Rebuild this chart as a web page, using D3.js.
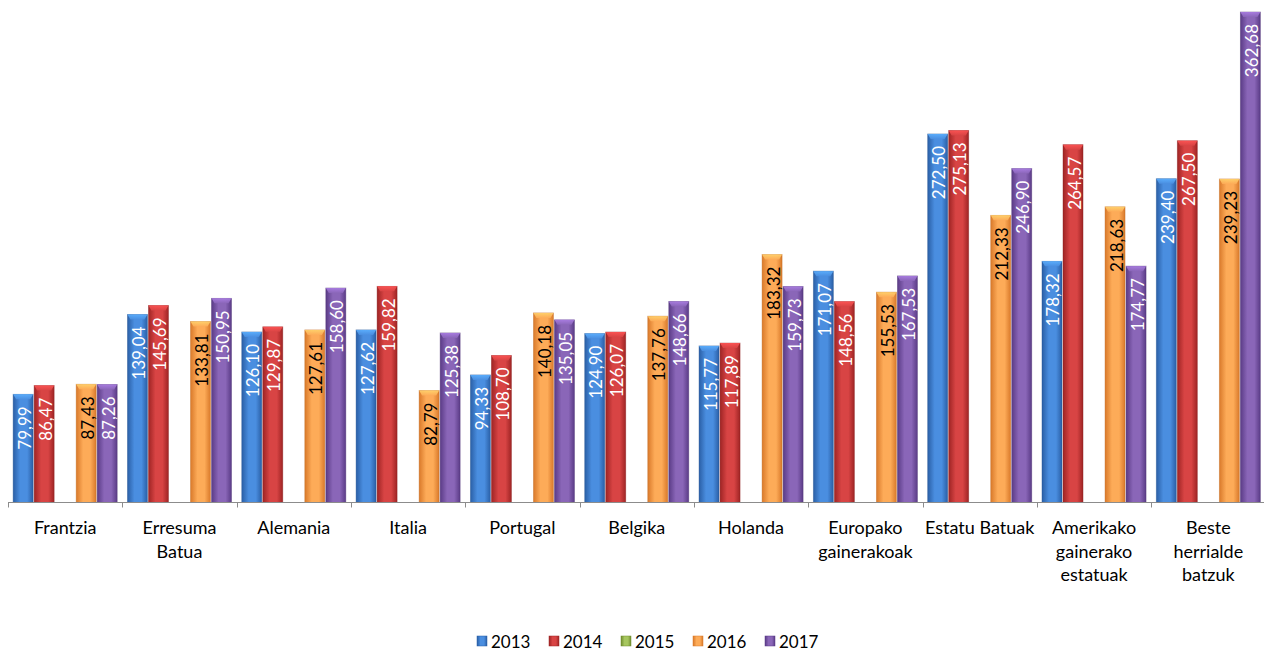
<!DOCTYPE html>
<html>
<head>
<meta charset="utf-8">
<script src="https://cdn.jsdelivr.net/npm/d3@7"></script>
<style>
  body { margin: 0; background: #fff; }
  svg { display: block; font-family: Lato, "Open Sans", sans-serif; }
</style>
</head>
<body>
<svg id="chart" width="1264" height="650"></svg>
<script>
// categories (multi-line labels split on |)
const categories = ['Frantzia', 'Erresuma|Batua', 'Alemania', 'Italia', 'Portugal', 'Belgika',
  'Holanda', 'Europako|gainerakoak', 'Estatu Batuak', 'Amerikako|gainerako|estatuak', 'Beste|herrialde|batzuk'];
const years = ['2013', '2014', '2015', '2016', '2017'];

const v2013 = [79.99, 139.04, 126.10, 127.62, 94.33, 124.90, 115.77, 171.07, 272.50, 178.32, 239.40];
const v2014 = [86.47, 145.69, 129.87, 159.82, 108.70, 126.07, 117.89, 148.56, 275.13, 264.57, 267.50];
const v2015 = [null, null, null, null, null, null, null, null, null, null, null];
const v2016 = [87.43, 133.81, 127.61, 82.79, 140.18, 137.76, 183.32, 155.53, 212.33, 218.63, 239.23];
const v2017 = [87.26, 150.95, 158.60, 125.38, 135.05, 148.66, 159.73, 167.53, 246.90, 174.77, 362.68];
const series = [v2013, v2014, v2015, v2016, v2017];

// [edge, middle, label colour]
const palette = {
  '2013': ['#2a5fa6', '#4a8ee0', '#fff'],
  '2014': ['#9e2424', '#d84444', '#fff'],
  '2015': ['#6f8c2e', '#a6c65e', '#fff'],
  '2016': ['#d9792a', '#fdab58', '#000'],
  '2017': ['#5a3b86', '#8a66b8', '#fff']
};

const svg = d3.select('#chart');
const defs = svg.append('defs');

years.forEach(y => {
  const [edge, mid] = palette[y];
  const g = defs.append('linearGradient').attr('id', 'g' + y)
    .attr('x1', 0).attr('x2', 1).attr('y1', 0).attr('y2', 0);
  g.append('stop').attr('offset', '0%').attr('stop-color', edge);
  g.append('stop').attr('offset', '35%').attr('stop-color', mid);
  g.append('stop').attr('offset', '70%').attr('stop-color', mid);
  g.append('stop').attr('offset', '100%').attr('stop-color', edge);
  const c = defs.append('linearGradient').attr('id', 'c' + y)
    .attr('x1', 0).attr('x2', 0).attr('y1', 0).attr('y2', 1);
  c.append('stop').attr('offset', '0%').attr('stop-color', d3.color(mid).brighter(0.6));
  c.append('stop').attr('offset', '100%').attr('stop-color', mid);
});

const baseY = 502.5;
const x0 = d3.scaleBand().domain(categories).range([8, 1265.5]).padding(0);
const x1 = d3.scaleBand().domain(years).range([0, x0.bandwidth()]).paddingInner(0).paddingOuter(0.22);
const y = d3.scaleLinear()
  .domain([0, d3.max(series.flat())])
  .range([baseY, 12]);

const rows = [];
categories.forEach((c, i) => {
  years.forEach((yr, j) => {
    if (series[j][i] != null) rows.push({ cat: c, year: yr, value: series[j][i] });
  });
});

const bars = svg.append('g').selectAll('g')
  .data(rows).enter().append('g')
  .attr('transform', d => `translate(${x0(d.cat) + x1(d.year)},0)`);

const bw = x1.bandwidth();
bars.append('rect')
  .attr('x', 0.5)
  .attr('y', d => y(d.value))
  .attr('width', bw - 1)
  .attr('height', d => baseY - y(d.value))
  .attr('fill', d => `url(#g${d.year})`)
  .attr('stroke', d => d3.color(palette[d.year][0]).darker(0.3))
  .attr('stroke-opacity', 0.5)
  .attr('stroke-width', 0.8);

// bevel cap on top
bars.append('path')
  .attr('d', d => {
    const t = y(d.value);
    return `M0.5,${t} L${bw - 0.5},${t} L${bw - 3.5},${t + 5} L3.5,${t + 5} Z`;
  })
  .attr('fill', d => `url(#c${d.year})`)
  .attr('opacity', 0.9);

bars.append('text')
  .attr('transform', d => `translate(${bw / 2 + 1},${y(d.value) + 12}) rotate(-90)`)
  .attr('text-anchor', 'end')
  .attr('dominant-baseline', 'central')
  .style('font-size', '17px')
  .attr('fill', d => palette[d.year][2])
  .text(d => d3.format('.2f')(d.value).replace('.', ','));

// axis
const axis = svg.append('g');
axis.append('line')
  .attr('x1', 8).attr('x2', 1265.5)
  .attr('y1', baseY).attr('y2', baseY)
  .attr('stroke', '#8c8c8c').attr('stroke-width', 1);
axis.selectAll('.tick')
  .data(categories.map(c => x0(c)).concat([x0.range()[1]]))
  .enter().append('line')
  .attr('x1', d => Math.round(d) + 0.5).attr('x2', d => Math.round(d) + 0.5)
  .attr('y1', baseY).attr('y2', baseY + 5)
  .attr('stroke', '#8c8c8c');

axis.selectAll('.cat')
  .data(categories).enter().append('text')
  .attr('x', d => x0(d) + x0.bandwidth() / 2)
  .attr('y', 534)
  .attr('text-anchor', 'middle')
  .style('font-size', '18px')
  .attr('fill', '#000')
  .each(function (d) {
    d.split('|').forEach((line, k) => {
      d3.select(this).append('tspan')
        .attr('x', x0(d) + x0.bandwidth() / 2)
        .attr('dy', k === 0 ? 0 : 23.5)
        .text(line);
    });
  });

// legend
const legend = svg.append('g').attr('transform', 'translate(477,641)');
const li = legend.selectAll('g').data(years).enter().append('g')
  .attr('transform', (d, i) => `translate(${i * 72},0)`);
li.append('rect')
  .attr('x', 0).attr('y', -5).attr('width', 10).attr('height', 10)
  .attr('fill', d => `url(#g${d})`)
  .attr('stroke', d => palette[d][0]).attr('stroke-width', 0.5);
li.append('text')
  .attr('x', 14).attr('y', 0)
  .attr('dominant-baseline', 'central')
  .style('font-size', '17px')
  .text(d => d);
</script>
</body>
</html>
